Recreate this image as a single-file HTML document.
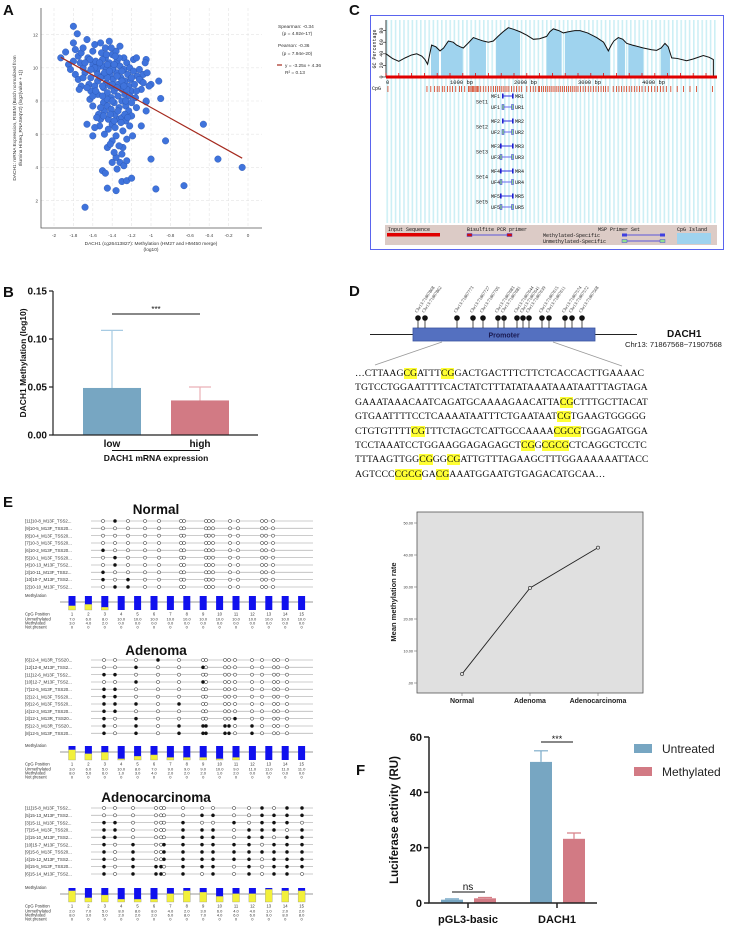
<!DOCTYPE html>
<html><head><meta charset="utf-8"><style>
html,body{margin:0;padding:0;background:#fff;}
#root{position:relative;width:740px;height:928px;overflow:hidden;font-family:"Liberation Sans",sans-serif;}
svg{position:absolute;left:0;top:0;}
#seq{position:absolute;left:355px;top:367px;font-family:"Liberation Serif",serif;font-size:9.75px;line-height:14.4px;white-space:pre;color:#111;}
#seq mark{background:#ffff33;color:#111;}
</style></head><body>
<div id="root">
<svg id="fig" width="740" height="928" viewBox="0 0 740 928">
<defs>
<pattern id="stripes" width="4.2" height="10" patternUnits="userSpaceOnUse"><rect x="0" y="0" width="1.6" height="10" fill="#cdeff5"/></pattern>
<clipPath id="gcclip"><path id="gcclippath" d=""/></clipPath>
</defs>
<g font-family="Liberation Sans, sans-serif" font-weight="bold" font-size="15" fill="#111">
<text x="3" y="15">A</text>
<text x="3" y="297">B</text>
<text x="349" y="15">C</text>
<text x="349" y="296">D</text>
<text x="3" y="507">E</text>
<text x="356" y="775">F</text>
</g>
<g id="pa"></g>
<g id="pb"></g>
<g id="pc"></g>
<g id="pd"></g>
<g id="pe"></g>
<g id="pl"></g>
<g id="pf"></g>
</svg>
<div id="seq">…CTTAAG<mark>CG</mark>ATTT<mark>CG</mark>GACTGACTTTCTTCTCACCACTTGAAAAC
TGTCCTGGAATTTTCACTATCTTTATATAAATAAATAATTTAGTAGA
GAAATAAACAATCAGATGCAAAAGAACATTA<mark>CG</mark>CTTTGCTTACAT
GTGAATTTTCCTCAAAATAATTTCTGAATAAT<mark>CG</mark>TGAAGTGGGGG
CTGTGTTTT<mark>CG</mark>TTTCTAGCTCATTGCCAAAA<mark>CGCG</mark>TGGAGATGGA
TCCTAAATCCTGGAAGGAGAGAGCT<mark>CG</mark>G<mark>CGCG</mark>CTCAGGCTCCTC
TTTAAGTTGG<mark>CG</mark>GG<mark>CG</mark>ATTGTTTAGAAGCTTTGGAAAAAATTACC
AGTCCC<mark>CGCG</mark>GA<mark>CG</mark>AAATGGAATGTGAGACATGCAA…</div>
</div>
<script>
// ---------- DATA ----------
const scatterX=[-1.93,-1.88,-1.8,-1.76,-1.68,-1.45,-1.36,-1.3,-1.25,-1.2,-1.5,-1.47,-0.95,-0.66,-1.0,-0.31,-0.06,-0.46,-0.85,-0.9,-0.92,-1.1,-1.05,-1.05,-1.05,-1.0,
-1.85,-1.83,-1.8,-1.78,-1.8,-1.75,-1.72,-1.7,-1.78,-1.75,-1.72,-1.7,-1.73,-1.68,-1.66,-1.65,-1.64,-1.62,-1.66,-1.6,-1.63,-1.6,-1.62,-1.6,-1.6,-1.58,-1.57,-1.56,-1.55,-1.55,-1.54,-1.53,-1.52,-1.52,-1.51,-1.5,-1.5,-1.49,-1.49,-1.48,-1.47,-1.47,-1.46,-1.46,-1.45,-1.45,-1.44,-1.44,-1.43,-1.43,-1.42,-1.42,-1.41,-1.41,-1.4,-1.4,-1.4,-1.39,-1.39,-1.38,-1.38,-1.37,-1.37,-1.36,-1.36,-1.35,-1.35,-1.34,-1.34,-1.33,-1.33,-1.32,-1.32,-1.31,-1.3,-1.3,-1.3,-1.29,-1.29,-1.28,-1.28,-1.27,-1.27,-1.26,-1.26,-1.25,-1.25,-1.24,-1.23,-1.23,-1.22,-1.22,-1.21,-1.2,-1.2,-1.19,-1.18,-1.18,-1.17,-1.16,-1.15,-1.15,-1.14,-1.12,-1.1,-1.1,-1.08,-1.06,-1.04,-1.02,-1.05,-1.3,-1.32,-1.36,-1.38,-1.4,-1.28,-1.45,-1.42,-1.33,-1.48,-1.52,-1.56,-1.58,-1.6,-1.66,-1.7,-1.74,-1.58,-1.35,-1.25,
-1.55,-1.5,-1.45,-1.4,-1.35,-1.3,-1.45,-1.5,-1.55,-1.4,-1.35,-1.3,-1.25,-1.2,-1.45,-1.5,-1.4,-1.48,-1.43,-1.38,-1.33,-1.53,-1.58,-1.63,-1.68,-1.28,-1.22,-1.26,-1.46,-1.41,-1.37,-1.52,-1.62,-1.57,-1.49,-1.42,-1.34,-1.38,-1.31,-1.27,-1.24,-1.2,-1.15,-1.12,-1.08];
const scatterY=[10.6,10.95,12.5,12.05,1.6,2.75,2.6,3.15,3.2,3.35,3.8,3.65,2.7,2.9,4.5,4.5,4.0,6.6,5.6,8.15,9.2,6.5,7.4,7.95,10.5,9.0,
10.2,9.9,10.4,11.1,11.5,10.7,10.9,11.2,9.6,9.3,8.9,10.0,10.3,9.7,11.7,10.6,9.0,8.6,6.6,5.9,8.1,7.7,9.4,10.2,11.0,11.4,10.4,9.8,9.2,8.4,7.2,6.5,6.9,11.5,10.9,10.1,9.5,8.8,7.9,7.4,11.2,10.6,9.9,9.1,8.5,7.7,6.9,6.3,11.6,10.3,9.6,8.9,8.2,7.5,6.6,5.6,10.8,10.0,9.3,8.6,7.9,7.2,6.4,5.9,11.0,10.4,9.7,9.0,8.3,7.6,6.9,11.3,10.1,9.4,8.7,8.0,7.0,6.2,5.2,10.6,9.9,9.2,8.4,7.7,6.8,5.7,10.3,9.6,8.9,7.4,6.5,10.0,9.3,8.6,7.1,5.9,10.5,9.8,9.0,8.2,7.6,10.6,9.5,9.9,8.7,9.2,9.6,10.3,9.7,8.9,8.0,4.8,4.3,4.6,4.9,4.3,4.1,5.2,5.4,5.3,6.0,7.6,7.0,8.9,8.3,8.8,9.4,8.7,6.4,3.9,4.4,
10.0,10.5,10.2,9.9,9.5,9.8,9.4,8.9,9.6,9.0,8.8,9.2,8.7,9.4,8.1,8.3,8.0,9.7,9.8,10.2,10.6,10.3,10.0,10.5,10.3,8.9,8.3,8.0,10.8,11.2,10.7,9.4,9.9,8.6,7.1,7.2,7.4,6.8,6.7,7.2,7.0,7.9,8.6,9.3,9.1];
const fitCoef=[-3.25,4.36];
const fitRange=[-1.93,-0.06];
const aXTicks=[-2,-1.8,-1.6,-1.4,-1.2,-1,-0.8,-0.6,-0.4,-0.2,0];
const aXTickLabels=["-2","-1.8","-1.6","-1.4","-1.2","-1","-0.8","-0.6","-0.4","-0.2","0"];
const aYTicks=[2,4,6,8,10,12];

const bGroups=["low","high"];
const bMeans=[0.049,0.036];
const bErr=[0.109,0.050];
const bTicks=[0,0.05,0.10,0.15];
const bTickLabels=["0.00","0.05","0.10","0.15"];

const gcBp=[0,100,200,300,400,480,560,609,650,713,780,844,900,974,1050,1104,1160,1208,1280,1365,1440,1521,1600,1677,1750,1830,1911,2000,2094,2200,2302,2400,2510,2560,2615,2700,2771,2850,2950,3031,3150,3292,3400,3474,3520,3560,3630,3700,3760,3850,4021,4150,4229,4300,4359,4410,4464,4550,4698,4800,4958,5050,5115];
const gcVal=[40,32,27,33,38,40,36,30,22,55,52,45,50,62,60,55,52,50,58,68,65,62,60,62,70,78,85,82,78,72,65,66,70,78,83,80,76,78,80,80,76,68,60,45,55,62,68,65,58,55,50,47,46,50,58,52,33,32,28,31,37,34,30];
const islandStart=[703,859,1302,1719,2510,2797,3614,3786,4297];
const islandEnd=[828,1198,1562,2094,2745,3500,3734,4021,4437];
const cpgBp=[30,640,700,760,800,830,880,910,960,1000,1040,1090,1150,1180,1230,1290,1310,1330,1350,1370,1390,1410,1430,1450,1480,1520,1560,1600,1640,1680,1710,1740,1770,1800,1830,1860,1890,1920,1960,2000,2040,2080,2120,2200,2260,2300,2340,2380,2400,2430,2460,2490,2520,2550,2580,2610,2640,2670,2700,2730,2760,2790,2820,2850,2880,2910,2940,2970,3000,3040,3080,3120,3160,3200,3240,3280,3320,3360,3400,3430,3470,3550,3600,3640,3680,3720,3760,3800,3840,3880,3920,3960,4000,4050,4100,4150,4200,4240,4290,4330,4380,4450,4550,4650,4750,4850,5100];
const gcTicks=[0,20,40,60,80];
const bpTicks=[0,1000,2000,3000,4000];

const pinLabels=["Chr13:71867868","Chr13:71867862","Chr13:71867773","Chr13:71867727","Chr13:71867705","Chr13:71867683","Chr13:71867681","Chr13:71867644","Chr13:71867641","Chr13:71867639","Chr13:71867615","Chr13:71867611","Chr13:71867574","Chr13:71867572","Chr13:71867568"];
const pinX=[418,425,457,473,483,498,504,517,523,529,542,549,565,572,582];

const normalLabels=["[11]10-8_M13F_TSS2...","[9]10-5_M13F_TSS20...","[8]10-4_M13F_TSS20...","[7]10-3_M13F_TSS20...","[6]10-2_M13F_TSS20...","[5]10-1_M13F_TSS20...","[4]10-13_M13F_TSS2...","[3]10-11_M13F_TSS2...","[10]10-7_M13F_TSS2...","[2]10-10_M13F_TSS2..."];
const normalMeth=[[2],[],[],[],[1],[2],[2],[1],[1,3],[2,3]];
const normalSiteX=[103,115,128,145,159,181,184,206,209,213,230,238,262,266,273];
const normalUnmeth=[7,6,8,10,10,10,10,10,10,10,10,10,10,10,10];
const normalMethCount=[3,4,2,0,0,0,0,0,0,0,0,0,0,0,0];

const adenomaLabels=["[6]12-4_M13R_TSS20...","[12]12-8_M13F_TSS2...","[11]12-6_M13F_TSS2...","[10]12-7_M13F_TSS2...","[7]12-5_M13F_TSS20...","[2]12-1_M13F_TSS20...","[9]12-6_M13F_TSS20...","[4]12-3_M13F_TSS20...","[3]12-1_M13R_TSS20...","[5]12-3_M13R_TSS20...","[8]12-5_M13F_TSS20..."];
const adenomaMeth=[[4],[3,6],[1,2],[3,6],[1,2],[1,2],[1,2,3,5],[1,2],[1,3,10],[1,3,5,6,7,8,9,11],[1,3,5,6,7,8,9,11]];
const adenomaSiteX=[104,115,136,158,179,203,206,225,229,235,252,262,274,278,287];
const adenomaUnmeth=[3,6,5,10,8,7,9,9,9,10,9,11,11,11,11];
const adenomaMethCount=[8,5,6,1,3,4,2,2,2,1,2,0,0,0,0];

const carcLabels=["[11]15-8_M13F_TSS2...","[5]15-13_M13F_TSS2...","[3]15-11_M13F_TSS2...","[7]15-4_M13F_TSS20...","[2]15-10_M13F_TSS2...","[10]15-7_M13F_TSS2...","[9]15-6_M13F_TSS20...","[4]15-12_M13F_TSS2...","[8]15-5_M13F_TSS20...","[6]15-14_M13F_TSS2..."];
const carcMeth=[[12,14,15],[8,9,12,13,14,15],[1,2,7,10,12,13,14],[1,2,7,8,9,11,12,13,15],[1,2,7,8,9,11,12,14,15],[1,3,6,7,8,9,10,11,13,14,15],[1,3,6,7,8,9,10,11,12,13,14,15],[1,3,6,7,8,9,10,11,13,14,15],[1,3,4,5,7,8,9,11,13,14,15],[1,3,4,5,7,9,11,13,14]];
const carcSiteX=[104,115,133,156,161,164,183,202,213,234,249,262,274,287,302];
const carcUnmeth=[2,7,5,8,8,8,4,2,3,6,4,4,1,2,2];
const carcMethCount=[8,3,5,2,2,2,6,8,7,4,6,6,9,8,8];

const lineCats=["Normal","Adenoma","Adenocarcinoma"];
const lineVals=[2.8,29.7,42.3];
const lineTicks=[0,10,20,30,40,50];
const lineTickLabels=[".00","10.00","20.00","30.00","40.00","50.00"];

const fGroups=["pGL3-basic","DACH1"];
const fUntreated=[1.2,51.0];
const fUntreatedErr=[1.5,55.0];
const fMethylated=[1.7,23.2];
const fMethylatedErr=[2.0,25.3];
const fTicks=[0,20,40,60];

// ---------- HELPERS ----------
const NS="http://www.w3.org/2000/svg";
function el(tag,parent,attrs){const e=document.createElementNS(NS,tag);for(const k in attrs)e.setAttribute(k,attrs[k]);parent.appendChild(e);return e;}
function txt(parent,x,y,s,attrs){const t=el('text',parent,Object.assign({x:x,y:y},attrs||{}));t.textContent=s;return t;}

// ---------- PANEL A ----------
(function(){
const g=document.getElementById('pa');
const sx=v=>54+(v+2)*97, sy=v=>200.6-(v-2)*16.6;
for(const v of aXTicks){const l=el('line',g,{x1:sx(v),x2:sx(v),y1:8,y2:228,stroke:'#e4e4e4','stroke-dasharray':'3,2','stroke-width':0.6});
}
for(const v of aYTicks){const l=el('line',g,{x1:41,x2:262,y1:sy(v),y2:sy(v),stroke:'#e4e4e4','stroke-dasharray':'3,2','stroke-width':0.6});
}
const ax=el('path',g,{d:'M41,8V228H262',fill:'none',stroke:'#555','stroke-width':0.8});

aXTicks.forEach((v,i)=>{const t=txt(g,sx(v),237,aXTickLabels[i],{'font-size':4.6,'text-anchor':'middle',fill:'#444'});
});
aYTicks.forEach(v=>{const t=txt(g,38,sy(v)+1.7,String(v),{'font-size':4.6,'text-anchor':'end',fill:'#444'});
});
for(let i=0;i<scatterX.length;i++){const c=el('circle',g,{cx:sx(scatterX[i]),cy:sy(scatterY[i]),r:3.3,fill:'#3f73dc',stroke:'#2a55b0','stroke-width':0.4});
}
const yA=fitCoef[0]*fitRange[0]+fitCoef[1], yB=fitCoef[0]*fitRange[1]+fitCoef[1];
const fl=el('line',g,{x1:sx(fitRange[0]),y1:sy(yA),x2:sx(fitRange[1]),y2:sy(yB),stroke:'#a52a1e','stroke-width':1.2});

const xt=txt(g,151,245,'DACH1 (cg26413827): Methylation (HM27 and HM450 merge)',{'font-size':4.8,'text-anchor':'middle',fill:'#333'});

txt(g,151,251,'(log10)',{'font-size':4.8,'text-anchor':'middle',fill:'#333'});
const yt=el('g',g,{transform:'translate(16,118) rotate(-90)'});
txt(yt,0,0,'DACH1: mRNA Expression, RSEM (Batch normalized from',{'font-size':4.8,'text-anchor':'middle',fill:'#333'});
txt(yt,0,6,'Illumina HiSeq_RNASeqV2) (log2(value + 1))',{'font-size':4.8,'text-anchor':'middle',fill:'#333'});
const lg=el('g',g,{'font-size':4.8,fill:'#333'});
txt(lg,278,28,'Spearman: -0.34');txt(lg,282,35,'(p = 4.92e-17)');txt(lg,278,47,'Pearson: -0.36');txt(lg,282,55,'(p = 7.94e-20)');
el('line',lg,{x1:277,x2:282,y1:65,y2:65,stroke:'#a52a1e','stroke-width':1.2});
txt(lg,285,67,'y = -3.25x + 4.36');txt(lg,285,74,'R² = 0.13');
})();

// ---------- PANEL B ----------
(function(){
const g=document.getElementById('pb');
const sy=v=>435-v/0.05*48;
const cx=[112,200], cols=['#77a6c2','#d27a84'], ecol=['#a7cbe3','#ebb0b6'];
bMeans.forEach((v,i)=>{
const e=el('path',g,{d:`M${cx[i]},${sy(v)}V${sy(bErr[i])}M${cx[i]-11},${sy(bErr[i])}H${cx[i]+11}`,stroke:ecol[i],'stroke-width':1.2,fill:'none'});

const r=el('rect',g,{x:cx[i]-29,y:sy(v),width:58,height:435-sy(v),fill:cols[i]});

const t=txt(g,cx[i],447,bGroups[i],{'font-size':10,'font-weight':'bold','text-anchor':'middle',fill:'#111'});

});
const ax=el('path',g,{d:`M53,${sy(0.15)}V435H258`,fill:'none',stroke:'#222','stroke-width':1.2});

bTicks.forEach((v,i)=>{el('line',g,{x1:49,x2:53,y1:sy(v),y2:sy(v),stroke:'#222','stroke-width':1.2});
const t=txt(g,47,sy(v)+3.5,bTickLabels[i],{'font-size':10,'font-weight':'bold','text-anchor':'end',fill:'#111'});
});
const sl=el('line',g,{x1:112,x2:200,y1:314,y2:314,stroke:'#111','stroke-width':1});
const st=txt(g,156,312,'***',{'font-size':8,'text-anchor':'middle',fill:'#111'});
el('line',g,{x1:112,x2:200,y1:447.5+3,y2:447.5+3,stroke:'#111','stroke-width':1});
const xt=txt(g,156,461,'DACH1 mRNA expression',{'font-size':8.5,'font-weight':'bold','text-anchor':'middle',fill:'#111'});

const yt=txt(g,0,0,'DACH1 Methylation (log10)',{'font-size':8.5,'font-weight':'bold','text-anchor':'middle',fill:'#111',transform:'translate(26,363) rotate(-90)'});

})();

// ---------- PANEL C ----------
(function(){
const g=document.getElementById('pc');
const bx=v=>386+v*0.064, gy=v=>77-v*0.58;
const box=el('rect',g,{x:370.5,y:15.5,width:353,height:234,fill:'#fff',stroke:'#5a64ee','stroke-width':1});

el('rect',g,{x:386,y:20,width:331,height:203,fill:'url(#stripes)'});
let d=`M${bx(gcBp[0])},77`;gcBp.forEach((b,i)=>{d+=`L${bx(b)},${gy(gcVal[i])}`;});d+=`L${bx(gcBp[gcBp.length-1])},77Z`;
document.getElementById('gcclippath').setAttribute('d',d);
const ig=el('g',g,{'clip-path':'url(#gcclip)'});
islandStart.forEach((s,i)=>{const r=el('rect',ig,{x:bx(s),y:20,width:bx(islandEnd[i])-bx(s),height:57,fill:'#9fd3ee'});
});
let ld='';gcBp.forEach((b,i)=>{ld+=(i?'L':'M')+bx(b)+','+gy(gcVal[i]);});
const gl=el('path',g,{d:ld+`L${bx(gcBp[gcBp.length-1])},77`,fill:'none',stroke:'#111','stroke-width':1});

el('path',g,{d:'M386,20V77',stroke:'#111','stroke-width':0.8,fill:'none'});
gcTicks.forEach(v=>{el('line',g,{x1:383,x2:386,y1:gy(v),y2:gy(v),stroke:'#111','stroke-width':0.6});
txt(g,0,0,String(v),{'font-size':5,'font-family':'Liberation Mono, monospace','text-anchor':'middle',transform:`translate(383,${gy(v)}) rotate(-90)`,fill:'#111'});});
txt(g,0,0,'GC Percentage',{'font-size':5,'font-family':'Liberation Mono, monospace','text-anchor':'middle',transform:'translate(376,49) rotate(-90)',fill:'#111'});
const rb=el('rect',g,{x:386,y:75.5,width:331,height:3,fill:'#e00000'});
for(let b=0;b<=5100;b+=200){el('line',g,{x1:bx(b),x2:bx(b),y1:73,y2:76,stroke:'#e00000','stroke-width':0.8});}
bpTicks.forEach(b=>{txt(g,bx(b),84,b?b+' bp':'0',{'font-size':5.5,'font-family':'Liberation Mono, monospace',fill:'#111'});});
txt(g,372,90,'CpG',{'font-size':5,'font-family':'Liberation Mono, monospace',fill:'#111'});
cpgBp.forEach(b=>{const t=el('line',g,{x1:bx(b),x2:bx(b),y1:86,y2:92,stroke:'#d23a1a','stroke-width':0.8});
});
const rows=[96,107,121,132,146,157,171,182,196,207];
for(let s=0;s<5;s++){
const sg=el('g',g,{'font-family':'Liberation Mono, monospace','font-size':5,fill:'#111'});

txt(sg,476,(rows[2*s]+rows[2*s+1])/2+2,'Set'+(s+1));
const ym=rows[2*s], yu=rows[2*s+1];
const x1=s<2?503:501;
txt(sg,491,ym+2,'MF'+(s+1));txt(sg,515,ym+2,'MR'+(s+1));
el('line',sg,{x1:x1,x2:513,y1:ym,y2:ym,stroke:'#3030e0','stroke-width':1});
el('rect',sg,{x:x1-1,y:ym-2.5,width:1.6,height:5,fill:'#2020d0'});el('rect',sg,{x:512,y:ym-2.5,width:1.6,height:5,fill:'#2020d0'});
txt(sg,491,yu+2,'UF'+(s+1));txt(sg,515,yu+2,'UR'+(s+1));
el('line',sg,{x1:x1,x2:513,y1:yu,y2:yu,stroke:'#6a6af0','stroke-width':1});
el('rect',sg,{x:x1-1,y:yu-2.5,width:2,height:5,fill:'#8fd08f',stroke:'#3030e0','stroke-width':0.5});el('rect',sg,{x:511.5,y:yu-2.5,width:2,height:5,fill:'#8fd08f',stroke:'#3030e0','stroke-width':0.5});
}
const lb=el('g',g,{'font-family':'Liberation Mono, monospace','font-size':5,fill:'#111'});

el('rect',lb,{x:385,y:225,width:332,height:20,fill:'#dccbc6'});
txt(lb,388,231,'Input Sequence');el('rect',lb,{x:387,y:233,width:53,height:3.5,fill:'#e00000'});
txt(lb,467,231,'Bisulfite PCR primer');el('line',lb,{x1:468,x2:512,y1:235,y2:235,stroke:'#3030e0','stroke-width':0.8});
el('rect',lb,{x:467,y:233.5,width:5,height:3,fill:'#d01010',stroke:'#3030e0','stroke-width':0.4});el('rect',lb,{x:507,y:233.5,width:5,height:3,fill:'#d01010',stroke:'#3030e0','stroke-width':0.4});
txt(lb,598,231,'MSP Primer Set');txt(lb,543,237,'Methylated-Specific');txt(lb,543,243,'Unmethylated-Specific');
el('line',lb,{x1:623,x2:664,y1:235,y2:235,stroke:'#3030e0','stroke-width':0.8});el('rect',lb,{x:622,y:233.5,width:5,height:3,fill:'#4040e0'});el('rect',lb,{x:660,y:233.5,width:5,height:3,fill:'#4040e0'});
el('line',lb,{x1:623,x2:664,y1:241,y2:241,stroke:'#3030e0','stroke-width':0.8});el('rect',lb,{x:622,y:239.5,width:5,height:3,fill:'#90e090',stroke:'#3030e0','stroke-width':0.4});el('rect',lb,{x:660,y:239.5,width:5,height:3,fill:'#90e090',stroke:'#3030e0','stroke-width':0.4});
txt(lb,677,231,'CpG Island');el('rect',lb,{x:677,y:233,width:34,height:11,fill:'#9fd3ee'});
})();

// ---------- PANEL D ----------
(function(){
const g=document.getElementById('pd');
el('line',g,{x1:370,x2:637,y1:334.5,y2:334.5,stroke:'#222','stroke-width':1});
const pr=el('rect',g,{x:413,y:328,width:182,height:13,fill:'#5470c0',stroke:'#3a55a0','stroke-width':0.8});

txt(g,504,337.5,'Promoter',{'font-size':7,'font-weight':'bold','text-anchor':'middle',fill:'#1a1a50'});
pinX.forEach((x,i)=>{const pg=el('g',g,{});
el('line',pg,{x1:x,x2:x,y1:318,y2:328,stroke:'#222','stroke-width':0.8});el('circle',pg,{cx:x,cy:318,r:2.8,fill:'#111'});
txt(pg,0,0,pinLabels[i],{'font-size':4.6,'font-family':'Liberation Serif, serif',fill:'#333',transform:`translate(${x-1},${313}) rotate(-55)`});});
const t=txt(g,667,337,'DACH1',{'font-size':10,'font-weight':'bold',fill:'#111'});
txt(g,625,347,'Chr13: 71867568~71907568',{'font-size':7.6,fill:'#222'});
el('line',g,{x1:442,y1:342,x2:375,y2:365,stroke:'#999','stroke-width':0.8});
el('line',g,{x1:553,y1:342,x2:622,y2:366,stroke:'#999','stroke-width':0.8});
})();

// ---------- PANEL E ----------
function drawGroup(g,title,titleY,rowY0,labels,meth,siteX,barY,unmeth,methc,name){
const grp=el('g',g,{});
const tt=txt(grp,156,titleY,title,{'font-size':13.5,'font-weight':'bold','text-anchor':'middle',fill:'#111'});

labels.forEach((lab,r)=>{const y=rowY0+r*7.33;
const rg=el('g',grp,{});
txt(rg,25,y+1.6,lab,{'font-size':4.4,fill:'#333'});
el('line',rg,{x1:91,x2:313,y1:y,y2:y,stroke:'#bbb','stroke-width':0.8});
siteX.forEach((x,s)=>{const m=meth[r].includes(s+1);
const c=el('circle',rg,{cx:x,cy:y,r:1.6,fill:m?'#111':'#fff',stroke:'#222','stroke-width':0.5});
});
});
txt(grp,25,barY-5,'Methylation',{'font-size':4.2,fill:'#333'});
el('line',grp,{x1:60,x2:313,y1:barY,y2:barY,stroke:'#777','stroke-width':0.8});
unmeth.forEach((u,i)=>{const x=72+i*16.4, tot=u+methc[i], H=14, top=barY-6, mh=tot?H*methc[i]/tot:0;
const b=el('rect',grp,{x:x-3.5,y:top,width:7,height:H-mh,fill:'#1010ee'});
if(mh>0){const y2=el('rect',grp,{x:x-3.5,y:top+H-mh,width:7,height:mh,fill:'#f2f03a',stroke:'#888','stroke-width':0.3});}
txt(grp,x,barY+13.5,String(i+1),{'font-size':4.2,'text-anchor':'middle',fill:'#333'});
txt(grp,x,barY+18.5,u.toFixed(1),{'font-size':4,'text-anchor':'middle',fill:'#333'});
txt(grp,x,barY+22.5,methc[i].toFixed(1),{'font-size':4,'text-anchor':'middle',fill:'#333'});
txt(grp,x,barY+26.5,'0',{'font-size':4,'text-anchor':'middle',fill:'#333'});
});
txt(grp,25,barY+13.5,'CpG Position',{'font-size':4.2,fill:'#333'});
txt(grp,25,barY+18.5,'Unmethylated',{'font-size':4.2,fill:'#333'});
txt(grp,25,barY+22.5,'Methylated',{'font-size':4.2,fill:'#333'});
txt(grp,25,barY+26.5,'Not present',{'font-size':4.2,fill:'#333'});
}
(function(){
const g=document.getElementById('pe');
drawGroup(g,'Normal',514,521,normalLabels,normalMeth,normalSiteX,602,normalUnmeth,normalMethCount,'normal-group');
drawGroup(g,'Adenoma',655,660,adenomaLabels,adenomaMeth,adenomaSiteX,752,adenomaUnmeth,adenomaMethCount,'adenoma-group');
drawGroup(g,'Adenocarcinoma',802,808,carcLabels,carcMeth,carcSiteX,894,carcUnmeth,carcMethCount,'adenocarcinoma-group');
})();

// ---------- LINE PANEL ----------
(function(){
const g=document.getElementById('pl');
const sy=v=>683-v*3.2, cx=[462,530,598];
const bg=el('rect',g,{x:417,y:512,width:226,height:181,fill:'#e0e0e0',stroke:'#555','stroke-width':0.8});

lineTicks.forEach((v,i)=>{el('line',g,{x1:414,x2:417,y1:sy(v),y2:sy(v),stroke:'#555','stroke-width':0.5});
const t=txt(g,413,sy(v)+1.5,lineTickLabels[i],{'font-size':3.8,'text-anchor':'end',fill:'#333'});});
let d='';lineVals.forEach((v,i)=>{d+=(i?'L':'M')+cx[i]+','+sy(v);});
const p=el('path',g,{d:d,fill:'none',stroke:'#222','stroke-width':0.9});
lineVals.forEach((v,i)=>{const c=el('circle',g,{cx:cx[i],cy:sy(v),r:1.6,fill:'#e0e0e0',stroke:'#222','stroke-width':0.6});

el('line',g,{x1:cx[i],x2:cx[i],y1:693,y2:696,stroke:'#555','stroke-width':0.5});
const t=txt(g,cx[i],703,lineCats[i],{'font-size':7,'font-weight':'bold','text-anchor':'middle',fill:'#222'});});
const yt=txt(g,0,0,'Mean methylation rate',{'font-size':7.5,'font-weight':'bold','text-anchor':'middle',fill:'#222',transform:'translate(396,602) rotate(-90)'});

})();

// ---------- PANEL F ----------
(function(){
const g=document.getElementById('pf');
const sy=v=>903-v*(166/60);
const gx=[468,557];
fGroups.forEach((name,i)=>{
const ux=gx[i]-27, mx=gx[i]+6;
const e1=el('path',g,{d:`M${ux+11},${sy(fUntreated[i])}V${sy(fUntreatedErr[i])}M${ux+4},${sy(fUntreatedErr[i])}H${ux+18}`,stroke:'#7aaac8','stroke-width':1.2,fill:'none'});

const e2=el('path',g,{d:`M${mx+11},${sy(fMethylated[i])}V${sy(fMethylatedErr[i])}M${mx+4},${sy(fMethylatedErr[i])}H${mx+18}`,stroke:'#d88088','stroke-width':1.2,fill:'none'});

const r1=el('rect',g,{x:ux,y:sy(fUntreated[i]),width:22,height:903-sy(fUntreated[i]),fill:'#77a6c2'});

const r2=el('rect',g,{x:mx,y:sy(fMethylated[i]),width:22,height:903-sy(fMethylated[i]),fill:'#d27a84'});

el('line',g,{x1:gx[i],x2:gx[i],y1:903,y2:908,stroke:'#222','stroke-width':1.5});
const t=txt(g,gx[i],923,name,{'font-size':11,'font-weight':'bold','text-anchor':'middle',fill:'#111'});

});
const ax=el('path',g,{d:`M429,${sy(60)}V903H597`,fill:'none',stroke:'#222','stroke-width':1.5});

fTicks.forEach(v=>{el('line',g,{x1:424,x2:429,y1:sy(v),y2:sy(v),stroke:'#222','stroke-width':1.5});
const t=txt(g,422,sy(v)+4,String(v),{'font-size':11,'font-weight':'bold','text-anchor':'end',fill:'#111'});});
const yt=txt(g,0,0,'Luciferase activity (RU)',{'font-size':11.5,'font-weight':'bold','text-anchor':'middle',fill:'#111',transform:'translate(398,820) rotate(-90)'});

el('line',g,{x1:452,x2:485,y1:892,y2:892,stroke:'#111','stroke-width':1});
const ns=txt(g,468,890,'ns',{'font-size':10,'text-anchor':'middle',fill:'#111'});
el('line',g,{x1:541,x2:573,y1:742,y2:742,stroke:'#111','stroke-width':1});
const st=txt(g,557,742,'***',{'font-size':9,'text-anchor':'middle',fill:'#111'});
const l1=el('g',g,{});
el('rect',l1,{x:634,y:744,width:18,height:9,fill:'#77a6c2'});txt(l1,662,753,'Untreated',{'font-size':12,fill:'#222'});
const l2=el('g',g,{});
el('rect',l2,{x:634,y:767,width:18,height:9,fill:'#d27a84'});txt(l2,662,776,'Methylated',{'font-size':12,fill:'#222'});
})();
</script>
</body></html>
